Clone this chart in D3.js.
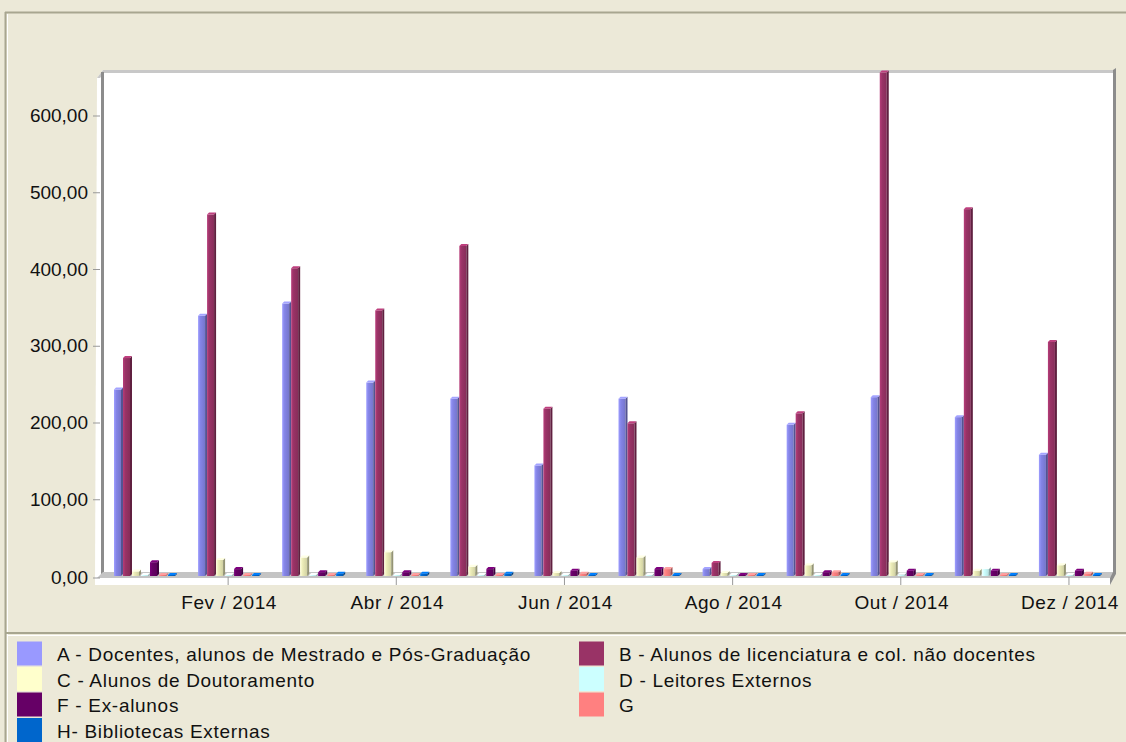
<!DOCTYPE html>
<html><head><meta charset="utf-8">
<script src="https://cdn.jsdelivr.net/npm/d3@7"></script>
<style>
html,body{margin:0;padding:0;background:#ECE9D8;}
svg{display:block;font-family:"Liberation Sans",Arial,sans-serif;}
</style></head><body>
<svg id="c" width="1126" height="742"></svg>
<script>
const months = ["Jan / 2014","Fev / 2014","Mar / 2014","Abr / 2014","Mai / 2014","Jun / 2014","Jul / 2014","Ago / 2014","Set / 2014","Out / 2014","Nov / 2014","Dez / 2014"];
const seriesKeys = ["A","B","C","D","F","G","H"];
const seriesNames = ["A - Docentes, alunos de Mestrado e Pós-Graduação","B - Alunos de licenciatura e col. não docentes","C - Alunos de Doutoramento","D - Leitores Externos","F - Ex-alunos","G","H- Bibliotecas Externas"];
const seriesColors = ["#9999FF","#993366","#FFFFCC","#CCFFFF","#660066","#FF8080","#0066CC"];
const valuesA = [243,339,355,252,231,144,231,9,197,233,207,158];
const valuesB = [284,471,401,346,430,218,199,17,212,656,478,305];
const valuesC = [6,21,24,31,12,4,24,4,14,18,7,14];
const valuesD = [0,0,0,0,0,0,0,0,0,2,9,0];
const valuesF = [18,9,5,5,9,7,9,1,5,7,7,7];
const valuesG = [1,1,1,1,1,3,9,1,5,1,1,3];
const valuesH = [1,1,3,3,3,1,1,1,1,1,1,1];
const yTicks = [0,100,200,300,400,500,600];

const seriesValues = [valuesA,valuesB,valuesC,valuesD,valuesF,valuesG,valuesH];
const svg = d3.select("#c");
const border = "#A8A690";
const FONT = "'Liberation Sans',Arial,sans-serif";

// outer frame
svg.append("rect").attr("x",0).attr("y",0).attr("width",1126).attr("height",742).attr("fill","#ECE9D8");
svg.append("line").attr("x1",5).attr("x2",1126).attr("y1",12.5).attr("y2",12.5).attr("stroke",border).attr("stroke-width",2);
svg.append("line").attr("x1",5.5).attr("x2",5.5).attr("y1",12).attr("y2",742).attr("stroke",border).attr("stroke-width",2);
svg.append("line").attr("x1",7.5).attr("x2",7.5).attr("y1",14).attr("y2",742).attr("stroke","#fff").attr("stroke-width",1);
svg.append("line").attr("x1",5).attr("x2",1126).attr("y1",633).attr("y2",633).attr("stroke",border).attr("stroke-width",2);
svg.append("line").attr("x1",7).attr("x2",1126).attr("y1",635.5).attr("y2",635.5).attr("stroke","#fff").attr("stroke-width",1);

const y = d3.scaleLinear().domain([0,600]).range([576,115.5]);
const x0 = d3.scaleBand().domain(months).range([106,1115]);
const x1 = d3.scaleBand().domain(seriesKeys).range([8,71]);
const baseY = y(0);
const dx = 2, dy = 2, fw = 7;

// plot walls
svg.append("polygon").attr("points",[[97,78],[103,70],[1116,70],[1116,574],[1110,585],[95,585]].join(" ")).attr("fill","#fff");
svg.append("polygon").attr("points",[[97,78],[103,70],[1116,70],[1116,73],[104,73],[100,78]].join(" ")).attr("fill","#C8C8C8");
svg.append("line").attr("x1",102.5).attr("x2",102.5).attr("y1",72).attr("y2",576).attr("stroke","#8C8C8C").attr("stroke-width",3);
svg.append("polygon").attr("points",[[97,578],[103,572],[1116,572],[1110,578]].join(" ")).attr("fill","#C4C4C4");
svg.append("polygon").attr("points",[[1113,70],[1116,68],[1116,574],[1110,585],[1110,578],[1113,572]].join(" ")).attr("fill","#8C8C8C");

// y axis
const yAxis = d3.axisLeft(y).tickValues(yTicks).tickSize(7).tickPadding(5)
  .tickFormat(d => d3.format(".2f")(d).replace(".", ","));
const ya = svg.append("g").attr("transform","translate(100,0)").call(yAxis);
ya.select(".domain").remove();
ya.selectAll(".tick line").attr("stroke","#999");
ya.selectAll(".tick text").attr("font-size",19).attr("fill","#111").attr("font-family",FONT).attr("letter-spacing","0");
ya.selectAll(".tick").filter(d => d===0).attr("transform","translate(0,578)");

// bars
const groups = svg.append("g").selectAll("g").data(months).join("g")
  .attr("transform", m => `translate(${x0(m)},0)`);
seriesKeys.forEach((k, si) => {
  const base = d3.color(seriesColors[si]);
  const front = k==="C" ? d3.rgb("#ECECB8") : (k==="A" ? d3.rgb("#8484E6") : base);
  const gid = "grad"+k;
  const grad = svg.append("defs").append("linearGradient").attr("id",gid).attr("x1","0").attr("x2","1");
  grad.append("stop").attr("offset","0").attr("stop-color",front.brighter(0.5));
  grad.append("stop").attr("offset","0.35").attr("stop-color",front);
  grad.append("stop").attr("offset","1").attr("stop-color",front.darker(0.35));
  groups.each(function(m, mi){
    const v = seriesValues[si][mi];
    const g = d3.select(this);
    const xl = x1(k);
    const top = Math.min(y(v), baseY - 1);
    g.append("rect").attr("x",xl).attr("y",top).attr("width",fw).attr("height",baseY-top).attr("fill",`url(#${gid})`);
    g.append("polygon").attr("points",[[xl+fw,top],[xl+fw+dx,top-dy],[xl+fw+dx,baseY-dy],[xl+fw,baseY]].join(" ")).attr("fill",front.darker(1.3));
    g.append("polygon").attr("points",[[xl,top],[xl+dx,top-dy],[xl+fw+dx,top-dy],[xl+fw,top]].join(" ")).attr("fill",front.brighter(0.6));
  });
});

// x axis
const xAxis = d3.axisBottom(x0).tickValues(months.filter((m,i)=>i%2===1)).tickSize(8).tickPadding(11);
const xa = svg.append("g").attr("transform","translate(-4,577)").call(xAxis);
xa.select(".domain").remove();
xa.selectAll(".tick line").attr("stroke","#999");
xa.selectAll(".tick text").attr("font-size",19).attr("fill","#111").attr("font-family",FONT).attr("letter-spacing","0.6").attr("dx",1);

// legend
const leg = svg.append("g");
seriesKeys.forEach((k, si) => {
  const col = si % 2, row = Math.floor(si / 2);
  const lx = col === 0 ? 17 : 579;
  const ly = 641.5 + row * 25.5;
  leg.append("rect").attr("x",lx).attr("y",ly).attr("width",25).attr("height",24).attr("fill",seriesColors[si]);
  leg.append("text").attr("x",lx+40).attr("y",ly+13).attr("dy","0.35em").attr("font-size",19).attr("fill","#111")
    .attr("font-family",FONT).attr("letter-spacing","0.7").text(seriesNames[si]);
});
</script>
</body></html>
